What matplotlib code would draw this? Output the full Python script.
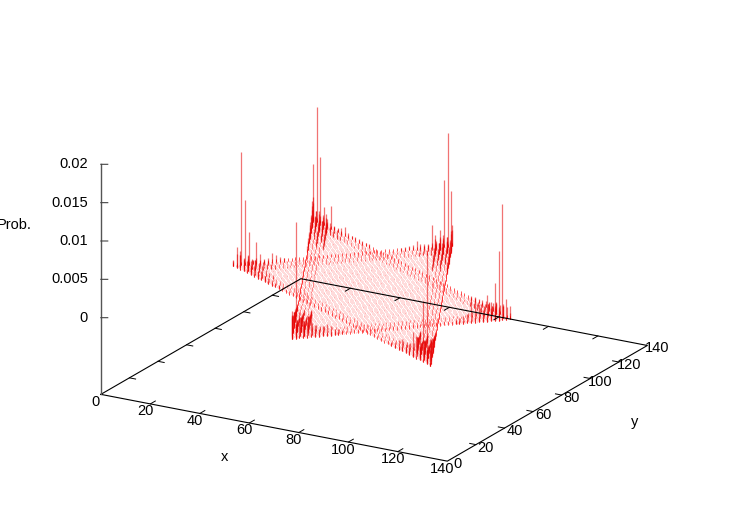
import numpy as np
import matplotlib
matplotlib.use('Agg')
import matplotlib.pyplot as plt
from mpl_toolkits.mplot3d.art3d import Line3DCollection
from mpl_toolkits.mplot3d import proj3d

plt.rcParams['font.family'] = ['Liberation Sans', 'DejaVu Sans']

# Tick values
x_ticks = [0, 20, 40, 60, 80, 100, 120, 140]
y_ticks = [0, 20, 40, 60, 80, 100, 120, 140]
z_ticks = [0, 0.005, 0.01, 0.015, 0.02]
z_labels = ['0', '0.005', '0.01', '0.015', '0.02']

# Star tips (lattice coordinates)
tip_L = (13, 70)
tip_R = (125, 70)
tip_T = (69, 126)
tip_B = (69, 14)
tip_UL = (13, 126)
tip_LR = (125, 14)

ul_to_r = [.0022, .0149, .0087, .0024, .0010, .0030, .0006, .0005, .0008, .0011, .0006, .0005, .0005, .0005, .0005, .0005, .0005]
ul_to_b = [.0030, .0075, .0030, .0026, .0024, .0020, .0020, .0016, .0016, .0014, .0012, .0012, .0010, .0009, .0008, .0007]
t_to_l = [.0021, .0148, .0087, .0023, .0009, .0030, .0006, .0006, .0007, .0011, .0006, .0005, .0005, .0004]
t_to_lr = [.0028, .0075, .0026, .0024, .0020, .0020, .0016, .0016, .0014, .0012, .0012, .0010, .0009, .0008]
l_to_t = [.0006, .0024, .0148, .0085, .0042, .0005, .0029, .0013, .0006, .0007, .0012, .0010, .0006, .0005]
l_to_lr = [.0008, .0018, .0024, .0016, .0016, .0012, .0014, .0010, .0012, .0008, .0008, .0007, .0006, .0005]
r_to_b = [.0008, .0027, .0152, .0091, .0049, .0025, .0035, .0016, .0024, .0032, .0032, .0012, .0010, .0008, .0006]
r_to_ul = [.0018, .0014, .0016, .0012, .0012, .0010, .0009, .0008, .0007, .0006, .0006, .0005]
b_to_r = [.0027, .0152, .0034, .0024, .0020, .0032, .0016, .0010, .0013, .0016, .0012, .0008, .0007, .0006]
b_to_ul = [.0030, .0034, .0026, .0022, .0020, .0022, .0018, .0016, .0014, .0012, .0012, .0010, .0009, .0008]
lr_to_l = [.0020, .0145, .0080, .0036, .0029, .0033, .0014, .0012, .0016, .0013, .0008, .0006]
lr_to_t = [.0035, .0030, .0028, .0024, .0020, .0022, .0018, .0016, .0014, .0012, .0011, .0010, .0009, .0008]

# Rows just inside the edges near a tip
inner_row = [.0022, .0020, .0016, .0014, .0012, .0010, .0009, .0008, .0007, .0006]
cluster_row = [.0016, .0012, .0014, .0009, .0010, .0007, .0006, .0005]

# Estimated flat heights: interior lattice points, edges and the band inside them
interior_level = .00014
edge_level = .0004
band_level = .00024

fig = plt.figure(figsize=(7.5, 5.25), dpi=100)
ax = fig.add_axes([.088, -.0724, .8, 1.1429], projection='3d', proj_type='ortho')
ax.computed_zorder = False
ax.view_init(elev=19.5, azim=-60)
ax.set_xlim(0, 140, view_margin=0)
ax.set_ylim(0, 140, view_margin=0)
ax.set_zlim(-.01, .02, view_margin=0)
ax.set_box_aspect((1, 1, .61), zoom=.997)
ax.set_axis_off()


def inside(px, py, a, b, c):
    d1 = (px - b[0]) * (a[1] - b[1]) - (a[0] - b[0]) * (py - b[1])
    d2 = (px - c[0]) * (b[1] - c[1]) - (b[0] - c[0]) * (py - c[1])
    d3 = (px - a[0]) * (c[1] - a[1]) - (c[0] - a[0]) * (py - a[1])
    return ((d1 >= 0) & (d2 >= 0) & (d3 >= 0)) | ((d1 <= 0) & (d2 <= 0) & (d3 <= 0))


# Interior stipple
gx, gy = np.meshgrid(np.arange(0, 141), np.arange(0, 141))
mask = inside(gx, gy, tip_L, tip_T, tip_LR) | inside(gx, gy, tip_UL, tip_R, tip_B)
fill_segs = [[(a, b, 0), (a, b, interior_level)] for a, b in zip(gx[mask], gy[mask])]
ax.add_collection3d(Line3DCollection(fill_segs, colors='#ff0000', linewidths=.5, alpha=.4, zorder=1))

# Edges in pairs from the same tip: start, step, heights
edges = [
    (tip_UL, (2, -1), ul_to_r), (tip_UL, (1, -2), ul_to_b),
    (tip_T, (-1, -1), t_to_l), (tip_T, (1, -2), t_to_lr),
    (tip_L, (1, 1), l_to_t), (tip_L, (2, -1), l_to_lr),
    (tip_R, (-1, -1), r_to_b), (tip_R, (-2, 1), r_to_ul),
    (tip_B, (1, 1), b_to_r), (tip_B, (-1, 2), b_to_ul),
    (tip_LR, (-2, 1), lr_to_l), (tip_LR, (-1, 2), lr_to_t),
]
low_segs = []
band_segs = []
spike_segs = []
for i, (start, step, heights) in enumerate(edges):
    off = edges[i ^ 1][1]
    for k in range(57):
        a, b = start[0] + k * step[0], start[1] + k * step[1]
        low_segs.append([(a, b, 0), (a, b, edge_level)])
    for n in [1, 2, 3]:
        for k in range(56 - n):
            a = start[0] + n * off[0] + k * step[0]
            b = start[1] + n * off[1] + k * step[1]
            band_segs.append([(a, b, 0), (a, b, band_level)])
    for k, h in enumerate(heights):
        a, b = start[0] + k * step[0], start[1] + k * step[1]
        spike_segs.append([(a, b, 0), (a, b, h)])
    for n in [1, 3]:
        for k, h in enumerate(cluster_row):
            a = start[0] + n * off[0] + (k + 1) * step[0]
            b = start[1] + n * off[1] + (k + 1) * step[1]
            spike_segs.append([(a, b, 0), (a, b, h)])

# inner rows near the four tips with the dark streaks
for start, step, off in [(tip_UL, (1, -2), (2, -1)), (tip_T, (1, -2), (-1, -1)),
                         (tip_B, (-1, 2), (1, 1)), (tip_LR, (-1, 2), (-2, 1))]:
    for n in [2, 4]:
        for k, h in enumerate(inner_row):
            a = start[0] + n * off[0] + (k + 2) * step[0]
            b = start[1] + n * off[1] + (k + 2) * step[1]
            spike_segs.append([(a, b, 0), (a, b, h)])

ax.add_collection3d(Line3DCollection(band_segs, colors='#ff0000', linewidths=.45, alpha=.35, zorder=2))
ax.add_collection3d(Line3DCollection(low_segs, colors='#ff0000', linewidths=.6, alpha=.45, zorder=2))
ax.add_collection3d(Line3DCollection(spike_segs, colors='#e60000', linewidths=.9, alpha=.55, zorder=3))

# Base frame and z axis
zb = -.01
ax.plot([0, 140, 140, 0, 0], [0, 0, 140, 140, 0], [zb] * 5, color='k', lw=.8, zorder=5)
ax.plot([0, 0], [0, 0], [zb, .02], color='#555555', lw=1, zorder=5)

for v in x_ticks[1:-1]:
    ax.plot([v, v], [0, 3.5], [zb, zb], color='k', lw=.7, zorder=5)
    ax.plot([v, v], [140, 136.5], [zb, zb], color='k', lw=.7, zorder=5)
for v in y_ticks[1:-1]:
    ax.plot([140, 137.5], [v, v], [zb, zb], color='k', lw=.7, zorder=5)
    ax.plot([0, 2.5], [v, v], [zb, zb], color='k', lw=.7, zorder=5)
for v in z_ticks:
    ax.plot([0, 2.1], [0, 1.2], [v, v], color='#444444', lw=.8, zorder=5)

M = ax.get_proj()


def tick_text(x, y, z, s, dx, dy, ha='center'):
    px, py, _ = proj3d.proj_transform(x, y, z, M)
    ax.annotate(s, (px, py), xytext=(dx, dy), textcoords='offset pixels',
                ha=ha, va='center', fontsize=10.5, color='k')


for v in x_ticks:
    tick_text(v, 0, zb, str(v), -5, -7.5)
for v in y_ticks:
    tick_text(140, v, zb, str(v), 10, -3)
for v, s in zip(z_ticks, z_labels):
    tick_text(0, 0, v, s, -13, 0, ha='right')

fig.text(225 / 750, 1 - 457 / 525, 'x', fontsize=10.5, ha='center', va='center')
fig.text(635 / 750, 1 - 422 / 525, 'y', fontsize=10.5, ha='center', va='center')
fig.text(14.5 / 750, 1 - 225 / 525, 'Prob.', fontsize=10.5, ha='center', va='center')

fig.savefig('out.png', dpi=100)
